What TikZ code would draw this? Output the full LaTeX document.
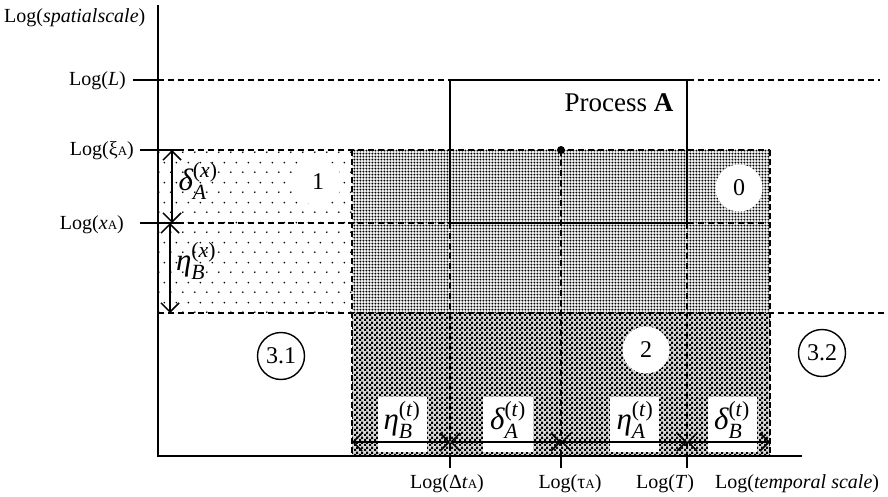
\documentclass[tikz,border=0pt]{standalone}
\usepackage{amsmath}
\usepackage{fontspec}
\setmainfont{Liberation Serif}
\usetikzlibrary{patterns.meta,arrows.meta}

% sparse staggered dots (region 1)
\tikzdeclarepattern{
  name=sparsedots, type=uncolored,
  bounding box={(0pt,0pt) and (12pt,20pt)},
  tile size={(12pt,20pt)},
  code={\fill (3pt,5pt) circle (1pt); \fill (9pt,15pt) circle (1pt);}
}
% dense dots (region 0)
\tikzdeclarepattern{
  name=densedots, type=uncolored,
  bounding box={(0pt,0pt) and (3.4pt,3.4pt)},
  tile size={(3.4pt,3.4pt)},
  code={\fill (1.7pt,1.7pt) circle (1.2pt);}
}
% fine checkerboard (region 2)
\tikzdeclarepattern{
  name=checker, type=uncolored,
  bounding box={(0pt,0pt) and (4.6pt,4.6pt)},
  tile size={(4.6pt,4.6pt)},
  code={\fill (0pt,0pt) rectangle (2.3pt,2.3pt); \fill (2.3pt,2.3pt) rectangle (4.6pt,4.6pt);}
}

\newcommand\smA{{\fontsize{13}{13}\selectfont A}}
% italic Greek span label with scale index and parenthesised axis variable
\newcommand\spanlab[3]{$\text{\itshape #1}^{\text{(\textit{#3})}}_{\text{\itshape #2}}$}

\begin{document}
\begin{tikzpicture}[x=1pt,y=-1pt,
  axis/.style={line width=2pt},
  guide/.style={line width=1.3pt,dash pattern=on 6pt off 4pt},
  edge/.style={line width=2pt,dash pattern=on 6pt off 3pt},
  tick/.style={line width=1.6pt},
  barb/.tip={Straight Barb[length=9pt 0 0,width=18pt 0 0,line width=1.5pt]},
  dimarrow/.style={line width=1.5pt,barb-barb},
  axlabel/.style={font=\fontsize{20}{24}\selectfont,inner sep=0pt},
  mathlabel/.style={font=\fontsize{31}{33}\selectfont,inner sep=0pt},
  zone/.style={circle,minimum size=47pt,inner sep=0pt,font=\fontsize{24}{26}\selectfont},
  whitezone/.style={zone,fill=white},
  ringzone/.style={zone,draw,line width=1.4pt,fill=white},
  labelbg/.style={fill=white}
]
\useasboundingbox (0,0) rectangle (888,497);

% shaded regions
\fill[pattern=sparsedots] (158,150) rectangle (352,313);
\fill[gray!12] (352,150) rectangle (770,313);
\fill[pattern=densedots] (352,150) rectangle (770,313);
\fill[gray!30] (352,313) rectangle (770,456);
\fill[pattern=checker] (352,313) rectangle (770,456);

% white patches behind the region numbers
\node[whitezone] (z1) at (318,182) {1};
\node[whitezone] (z0) at (739,188) {0};
\node[whitezone] (z2) at (646,350) {2};
\node[ringzone] (z31) at (281,356) {3.1};
\node[ringzone] (z32) at (822,353) {3.2};

% white boxes behind the temporal labels
\fill[labelbg] (378,397) rectangle (427,452);
\fill[labelbg] (483,397) rectangle (533,452);
\fill[labelbg] (610,397) rectangle (659,452);
\fill[labelbg] (708,397) rectangle (757,452);

% key coordinates
\coordinate (yL) at (158,80);
\coordinate (yXi) at (158,150);
\coordinate (yX) at (158,223);
\coordinate (yB) at (158,313);
\coordinate (tD) at (450,456);
\coordinate (tTau) at (561,456);
\coordinate (tT) at (687,456);
\coordinate (dot) at (561,150);

% horizontal guide lines
\draw[guide] (yL) -- (880,80);
\draw[guide] (yXi) -- (770,150);
\draw[guide] (yX) -- (770,223);
\draw[guide] (yB) -- (888,313);

% vertical guide lines
\draw[guide] (450,223) -- (tD);
\draw[guide] (dot) -- (tTau);
\draw[guide] (687,223) -- (tT);
\draw[edge] (352,150) -- (352,456);
\draw[edge] (770,150) -- (770,456);

% process box
\draw[line width=2.4pt] (450,80) rectangle (687,223);
\node[font=\fontsize{27}{30}\selectfont] (proc) at (619,103) {Process \textbf{A}};
\fill (dot) circle (4pt);

% axes
\draw[axis] (158,5) -- (158,456) -- (802,456);

% ticks
\draw[tick] (133,80) -- (yL);
\draw[tick] (140,150) -- (178,150);
\draw[tick] (140,223) -- (178,223);
\draw[tick] (tD) -- ++(0,12);
\draw[tick] (tTau) -- ++(0,12);
\draw[tick] (tT) -- ++(0,12);

% axis labels
\node[axlabel,anchor=base west] (ylab) at (4,23) {Log(\textit{spatialscale})};
\node[axlabel,anchor=base east] (lL) at (126,86) {Log(\textit{L})};
\node[axlabel,anchor=base east] (lXi) at (134,156) {Log(ξ\smA)};
\node[axlabel,anchor=base east] (lX) at (124,229) {Log(\textit{x}\smA)};
\node[axlabel,anchor=base] (lD) at (447,488) {Log(Δ\textit{t}\smA)};
\node[axlabel,anchor=base] (lTau) at (570,488) {Log(τ\smA)};
\node[axlabel,anchor=base] (lT) at (665,488) {Log(\textit{T})};
\node[axlabel,anchor=base west] (xlab) at (715,488) {Log(\textit{temporal scale})};

% temporal spans
\coordinate (a0) at (352,442);
\coordinate (a1) at (450,442);
\coordinate (a2) at (561,442);
\coordinate (a3) at (687,442);
\coordinate (a4) at (770,442);
\node[mathlabel] (etaBt) at (402,420) {\spanlab{η}{B}{t}};
\node[mathlabel] (deltaAt) at (508,420) {\spanlab{δ}{A}{t}};
\node[mathlabel] (etaAt) at (635,420) {\spanlab{η}{A}{t}};
\node[mathlabel] (deltaBt) at (732,420) {\spanlab{δ}{B}{t}};
\draw[dimarrow] (a0) -- (a1);
\draw[dimarrow] (a1) -- (a2);
\draw[dimarrow] (a2) -- (a3);
\draw[dimarrow] (a3) -- (a4);

% spatial spans
\coordinate (s0) at (172,150);
\coordinate (s1) at (172,223);
\coordinate (s2) at (170,223);
\coordinate (s3) at (170,313);
\draw[dimarrow] (s0) -- (s1);
\draw[dimarrow] (s2) -- (s3);
\node[mathlabel] (deltaAx) at (198,181) {\spanlab{δ}{A}{x}};
\node[mathlabel] (etaBx) at (196,261) {\spanlab{η}{B}{x}};
\end{tikzpicture}
\end{document}
